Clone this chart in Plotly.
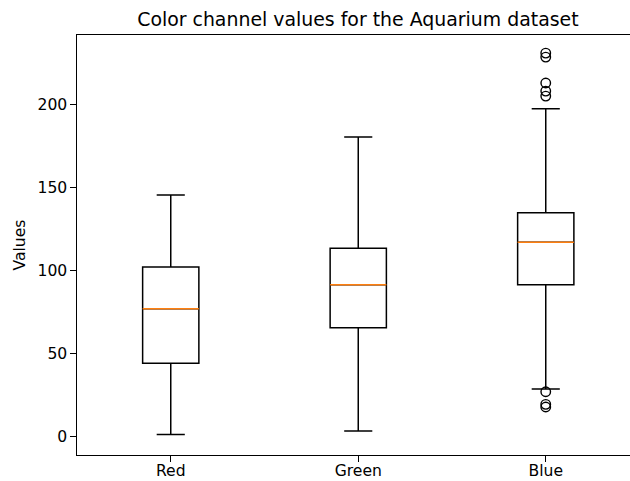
import plotly.graph_objects as go

# Per-channel box statistics (pixel values 0-255)
channels = ["Red", "Green", "Blue"]
positions = [1, 2, 3]
lower_whisker = [1, 3, 28.3]
q1 = [43.8, 65.2, 91.1]
median = [76.7, 91.2, 116.7]
q3 = [101.8, 113.1, 134.5]
upper_whisker = [145.2, 180.1, 197.2]

# Outliers beyond the whiskers (Blue channel only)
outlier_pos = [3, 3, 3, 3, 3, 3, 3, 3]
outlier_vals = [230.7, 228.3, 212.7, 207.8, 204.8, 26.7, 19.1, 17.5]

box_width = 0.3
font_family = "DejaVu Sans, Verdana, sans-serif"
tick_size = 15.6
title_size = 18.9
lw = 1.5

fig = go.Figure()

for i, name in enumerate(channels):
    fig.add_trace(go.Box(
        x=[positions[i]],
        q1=[q1[i]],
        median=[median[i]],
        q3=[q3[i]],
        lowerfence=[lower_whisker[i]],
        upperfence=[upper_whisker[i]],
        width=box_width,
        whiskerwidth=0.5,
        line=dict(color="black", width=lw),
        fillcolor="rgba(0,0,0,0)",
        boxpoints=False,
        name=name,
        showlegend=False,
        hoverinfo="skip",
    ))
    # orange median line across the box
    fig.add_trace(go.Scatter(
        x=[positions[i] - box_width / 2, positions[i] + box_width / 2],
        y=[median[i], median[i]],
        mode="lines",
        line=dict(color="#ff7f0e", width=lw),
        showlegend=False,
        hoverinfo="skip",
    ))

fig.add_trace(go.Scatter(
    x=outlier_pos,
    y=outlier_vals,
    mode="markers",
    marker=dict(symbol="circle-open", size=9.5, color="black", line=dict(width=1.4)),
    showlegend=False,
    hoverinfo="skip",
))

fig.update_layout(
    width=630,
    height=481,
    margin=dict(l=77, r=0, t=35, b=26),
    paper_bgcolor="white",
    plot_bgcolor="white",
    boxmode="overlay",
    font=dict(family=font_family, size=tick_size, color="black"),
    title=dict(
        text="Color channel values for the Aquarium dataset",
        font=dict(family=font_family, size=title_size, color="black"),
        x=0.508, xref="paper", xanchor="center",
        y=1 - 19 / 481, yref="container", yanchor="middle",
    ),
    xaxis=dict(
        range=[0.5, 0.5 + 553 / 187.5],
        tickmode="array",
        tickvals=positions,
        ticktext=channels,
        showline=True, linecolor="black", linewidth=1.2,
        mirror=True,
        ticks="outside", ticklen=5.5, tickwidth=1.2, tickcolor="black",
        showgrid=False, zeroline=False,
        tickfont=dict(size=tick_size),
        ticklabelstandoff=-4,
        automargin=False,
    ),
    yaxis=dict(
        range=[-11.4, 241.6],
        tickvals=[0, 50, 100, 150, 200],
        showline=True, linecolor="black", linewidth=1.2,
        ticks="outside", ticklen=5.5, tickwidth=1.2, tickcolor="black",
        showgrid=False, zeroline=False,
        tickfont=dict(size=tick_size),
        title=dict(text="Values", font=dict(size=tick_size), standoff=8),
        automargin=False,
    ),
)

fig.write_html("out.html")
